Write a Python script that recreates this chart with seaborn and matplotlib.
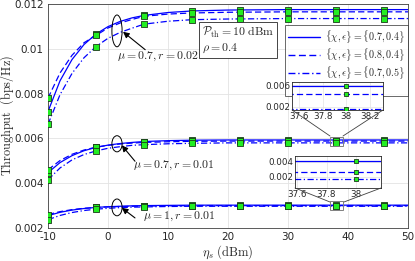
import numpy as np
import pandas as pd
import matplotlib
matplotlib.use("Agg")
import matplotlib.pyplot as plt
import seaborn as sns
from matplotlib.patches import Ellipse, Rectangle
from matplotlib.lines import Line2D

# ---------------- data ----------------
eta_line = [-10, -8, -6, -4, -2, 0, 2, 4, 6, 10, 14, 20, 30, 40, 50]
eta_sim = [-10, -2, 6, 14, 22, 30, 38, 46]

# group 1: mu=0.7, r=0.02
g1_solid = [0.0072, 0.00857, 0.00952, 0.01019, 0.01066, 0.01099, 0.01122, 0.01138, 0.01149, 0.01162, 0.01169, 0.01173, 0.01175, 0.01175, 0.01175]
g1_dash = [0.0078, 0.00892, 0.00971, 0.01027, 0.0106, 0.01093, 0.01115, 0.01131, 0.01145, 0.01155, 0.0116, 0.01163, 0.01165, 0.01165, 0.01165]
g1_dashdot = [0.00663, 0.00795, 0.0089, 0.0096, 0.0101, 0.01047, 0.01073, 0.01092, 0.0111, 0.01123, 0.0113, 0.01133, 0.01135, 0.01135, 0.01135]
# group 2: mu=0.7, r=0.01
g2_solid = [0.00447, 0.00492, 0.00523, 0.00545, 0.0056, 0.0057, 0.00577, 0.00582, 0.00586, 0.0059, 0.00592, 0.00593, 0.00593, 0.00593, 0.00593]
g2_dash = [0.0046, 0.00501, 0.00529, 0.00548, 0.00561, 0.00569, 0.00575, 0.00579, 0.00582, 0.00585, 0.00587, 0.00588, 0.00588, 0.00588, 0.00588]
g2_dashdot = [0.00415, 0.00468, 0.00504, 0.00528, 0.00544, 0.00556, 0.00563, 0.00569, 0.00572, 0.00576, 0.00578, 0.0058, 0.0058, 0.0058, 0.0058]
# group 3: mu=1, r=0.01
g3_solid = [0.00255, 0.0027, 0.0028, 0.00287, 0.00292, 0.00295, 0.00297, 0.00299, 0.003, 0.00301, 0.00302, 0.00302, 0.00302, 0.00302, 0.00302]
g3_dash = [0.0026, 0.00273, 0.00282, 0.00288, 0.00292, 0.00294, 0.00296, 0.00297, 0.00298, 0.00299, 0.003, 0.003, 0.003, 0.003, 0.003]
g3_dashdot = [0.00237, 0.00256, 0.00269, 0.00278, 0.00284, 0.00288, 0.00291, 0.00293, 0.00294, 0.00296, 0.00297, 0.00297, 0.00297, 0.00297, 0.00297]

# simulation points
s1_solid = [0.0072, 0.01066, 0.01149, 0.01169, 0.01174, 0.01175, 0.01175, 0.01175]
s1_dash = [0.0078, 0.0106, 0.01145, 0.0116, 0.01164, 0.01165, 0.01165, 0.01165]
s1_dashdot = [0.00663, 0.0101, 0.0111, 0.0113, 0.01134, 0.01135, 0.01135, 0.01135]
s2_solid = [0.00447, 0.0056, 0.00586, 0.00592, 0.00593, 0.00593, 0.00593, 0.00593]
s2_dash = [0.0046, 0.00561, 0.00582, 0.00587, 0.00588, 0.00588, 0.00588, 0.00588]
s2_dashdot = [0.00415, 0.00544, 0.00572, 0.00578, 0.0058, 0.0058, 0.0058, 0.0058]
s3_solid = [0.00255, 0.00292, 0.003, 0.00302, 0.00302, 0.00302, 0.00302, 0.00302]
s3_dash = [0.0026, 0.00292, 0.00298, 0.003, 0.003, 0.003, 0.003, 0.003]
s3_dashdot = [0.00237, 0.00284, 0.00294, 0.00297, 0.00297, 0.00297, 0.00297, 0.00297]

legend_labels = [r"$\{\chi,\epsilon\}=\{0.7,0.4\}$", r"$\{\chi,\epsilon\}=\{0.8,0.4\}$",
                 r"$\{\chi,\epsilon\}=\{0.7,0.5\}$", "Simulation"]
group_labels = [r"$\mu=0.7, r=0.02$", r"$\mu=0.7, r=0.01$", r"$\mu=1, r=0.01$"]

# inset data
inset1_x = [37.5, 38.4]
inset1_solid = [0.0058, 0.0058]
inset1_dash = [0.0043, 0.0043]
inset1_dashdot = [0.00157, 0.00157]
inset2_x = [37.5, 38.3]
inset2_solid = [0.0041, 0.0041]
inset2_dash = [0.00263, 0.00263]
inset2_dashdot = [0.00166, 0.00166]
inset_sim_x = [38]

# ---------------- style ----------------
sns.set_style("white")
plt.rcParams['font.family'] = ['DejaVu Sans']
plt.rcParams['mathtext.fontset'] = 'cm'

BLUE = (0.0, 0.0, 1.0)
GREEN = "#22ee22"
EDGE = "#1a3a1a"
STYLES = {"solid": (None, "-"), "dash": ((5, 2.5), "--"), "dashdot": ((5, 2, 1, 2), "-.")}

W, H = 415, 261
fig = plt.figure(figsize=(W / 100, H / 100), dpi=100)

def px_axes(x0, y0, x1, y1):
    return fig.add_axes([x0 / W, 1 - y1 / H, (x1 - x0) / W, (y1 - y0) / H])

ax = px_axes(48, 4, 408, 228)

def draw_line(a, x, y, kind, lw=0.9):
    d, ls = STYLES[kind]
    sns.lineplot(x=x, y=y, ax=a, color=BLUE, lw=lw, linestyle=ls, legend=False)
    if d is not None:
        a.lines[-1].set_dashes(d)

def draw_sim(a, x, y, s=14):
    sns.scatterplot(x=x, y=y, ax=a, marker="s", s=s, color=GREEN, edgecolor=EDGE,
                    linewidth=0.6, zorder=5, legend=False)

for ys, kind in [(g1_solid, "solid"), (g1_dash, "dash"), (g1_dashdot, "dashdot"),
                 (g2_solid, "solid"), (g2_dash, "dash"), (g2_dashdot, "dashdot"),
                 (g3_solid, "solid"), (g3_dash, "dash"), (g3_dashdot, "dashdot")]:
    draw_line(ax, eta_line, ys, kind)

for ys in [s1_solid, s1_dash, s1_dashdot, s2_solid, s2_dash, s2_dashdot,
           s3_solid, s3_dash, s3_dashdot]:
    draw_sim(ax, eta_sim, ys)

ax.set_xlim(-10, 50)
ax.set_ylim(0.002, 0.012)
ax.set_xticks([-10, 0, 10, 20, 30, 40, 50])
ax.set_xticklabels(["-10", "0", "10", "20", "30", "40", "50"])
ax.set_yticks([0.002, 0.004, 0.006, 0.008, 0.010, 0.012])
ax.set_yticklabels(["0.002", "0.004", "0.006", "0.008", "0.01", "0.012"])
ax.grid(True, color="#e3e3e3", lw=0.6)
ax.tick_params(axis="both", direction="in", length=3, labelsize=7.5, colors="#262626", pad=3)
for sp in ax.spines.values():
    sp.set_color("#404040")
    sp.set_linewidth(0.6)
ax.set_xlabel(r"$\eta_s\ \mathrm{(dBm)}$", fontsize=9, labelpad=1)
ax.set_ylabel(r"$\mathrm{Throughput\ \ (bps/Hz)}$", fontsize=8.8)
ax.yaxis.set_label_coords(-0.088, 0.5)

# ellipses and arrows
for (cy, h) in [(0.0108, 0.00142), (0.00576, 0.00072), (0.00292, 0.00075)]:
    ax.add_patch(Ellipse((1.5, cy), 1.7, h, fill=False, ec="k", lw=0.7, zorder=6))

arrows = [((6.2, 0.00996), (2.5, 0.01076)), ((4.5, 0.00498), (2.3, 0.00569)),
          ((4.5, 0.00245), (2.3, 0.0029))]
for tail, head in arrows:
    ax.annotate("", xy=head, xytext=tail,
                arrowprops=dict(arrowstyle="-|>", color="k", lw=0.8,
                                mutation_scale=9, shrinkA=0, shrinkB=0), zorder=7)
for (tx, ty), lab in zip([(1.5, 0.00965), (4.2, 0.00481), (5.8, 0.00254)], group_labels):
    ax.text(tx, ty, lab, fontsize=8.5, va="center", ha="left", zorder=7)

# text box
ax.text(0.428, 0.905, r"$\mathcal{P}_{\rm th}=10\ \mathrm{dBm}$" + "\n" + r"$\rho=0.4$",
        transform=ax.transAxes, fontsize=8.5, va="top", ha="left", linespacing=1.1,
        bbox=dict(boxstyle="square,pad=0.25", fc="white", ec="#262626", lw=0.6), zorder=8)

# legend
handles = [Line2D([], [], color=BLUE, lw=1.0, linestyle="-"),
           Line2D([], [], color=BLUE, lw=1.0, dashes=(5, 2.5)),
           Line2D([], [], color=BLUE, lw=1.0, dashes=(5, 2, 1, 2)),
           Line2D([], [], color="none", marker="s", markerfacecolor=GREEN,
                  markeredgecolor=EDGE, markersize=4, markeredgewidth=0.6)]
leg = ax.legend(handles, legend_labels, loc="upper right", bbox_to_anchor=(1.0, 0.905),
                fontsize=7.2, frameon=True, fancybox=False, edgecolor="#262626",
                handlelength=3.2, handletextpad=0.5, borderpad=0.3, labelspacing=0.15,
                borderaxespad=0.0)
leg.get_frame().set_linewidth(0.6)
leg.set_zorder(9)

# zoom rectangles on main axes
ax.add_patch(Rectangle((37.0, 0.00565), 2.2, 0.00042, fill=False, ec="#808080", lw=0.7, zorder=6))
ax.add_patch(Rectangle((37.0, 0.00279), 2.2, 0.00042, fill=False, ec="#808080", lw=0.7, zorder=6))

# connector lines (figure pixel coords)
def fig_line(p0, p1):
    fig.add_artist(Line2D([p0[0] / W, p1[0] / W], [1 - p0[1] / H, 1 - p1[1] / H],
                          color="#404040", lw=0.6, transform=fig.transFigure))

fig_line((292, 110), (330, 136))
fig_line((383, 110), (343, 136))
fig_line((295, 188), (330, 202))
fig_line((381, 188), (344, 202))

# inset 1
ia = px_axes(292, 82, 383, 110)
for ys, kind in [(inset1_solid, "solid"), (inset1_dash, "dash"), (inset1_dashdot, "dashdot")]:
    draw_line(ia, inset1_x, ys, kind)
for v in [inset1_solid[0], inset1_dash[0], inset1_dashdot[0]]:
    draw_sim(ia, inset_sim_x, [v], s=12)
ia.set_xlim(37.54, 38.31)
ia.set_ylim(0.0014, 0.0066)
ia.set_xticks([37.6, 37.8, 38.0, 38.2])
ia.set_xticklabels(["37.6", "37.8", "38", "38.2"])
ia.set_yticks([0.002, 0.006])
ia.set_yticklabels(["0.002", "0.006"])

# inset 2
ib = px_axes(295, 156, 381, 188)
for ys, kind in [(inset2_solid, "solid"), (inset2_dash, "dash"), (inset2_dashdot, "dashdot")]:
    draw_line(ib, inset2_x, ys, kind)
for v in [inset2_solid[0], inset2_dash[0], inset2_dashdot[0]]:
    draw_sim(ib, inset_sim_x, [v], s=12)
ib.set_xlim(37.586, 38.17)
ib.set_ylim(0.0005, 0.00476)
ib.set_xticks([37.6, 37.8, 38.0])
ib.set_xticklabels(["37.6", "37.8", "38"])
ib.set_yticks([0.002, 0.004])
ib.set_yticklabels(["0.002", "0.004"])

for a in (ia, ib):
    a.set_facecolor("white")
    a.grid(True, color="#e3e3e3", lw=0.5)
    a.tick_params(axis="both", direction="in", length=2, labelsize=6.3, colors="#262626", pad=1.5)
    a.set_xlabel("")
    a.set_ylabel("")
    for sp in a.spines.values():
        sp.set_color("#262626")
        sp.set_linewidth(0.6)

fig.savefig("out.png", dpi=100)
